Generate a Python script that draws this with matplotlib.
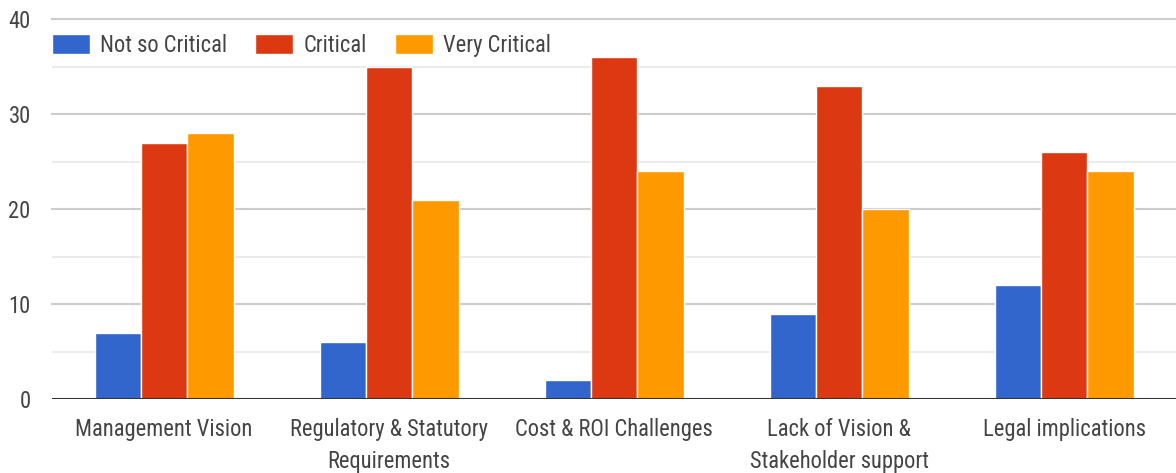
import matplotlib
matplotlib.use("Agg")
import matplotlib.pyplot as plt
from matplotlib import font_manager
from matplotlib.font_manager import FontProperties
from matplotlib.textpath import TextPath
import numpy as np

categories = [
    "Management Vision",
    "Regulatory & Statutory\nRequirements",
    "Cost & ROI Challenges",
    "Lack of Vision &\nStakeholder support",
    "Legal implications",
]
series_names = ["Not so Critical", "Critical", "Very Critical"]
not_so_critical = [7, 6, 2, 9, 12]
critical = [27, 35, 36, 33, 26]
very_critical = [28, 21, 24, 20, 24]
y_ticks = [0, 10, 20, 30, 40]

colors = ["#3366cc", "#dc3912", "#ff9900"]
text_color = "#444444"

W, H = 1176, 473
PX_PER_PT = 100 / 72


def pick_font():
    """Choose a sans face whose proportions suit a narrow label style:
    label width and cap height both near the intended pixel sizes."""
    target_w, target_cap = 174.0, 17.2
    cands = []
    for f in font_manager.fontManager.ttflist:
        n = f.name
        if any(k in n for k in ("Mono", "Serif", "CJK", "Math", "Display")):
            continue
        if f.style != "normal":
            continue
        if f.weight not in (400, "normal", "regular", "book"):
            continue
        if not n.startswith(("Liberation Sans", "Roboto", "Open Sans", "Noto Sans",
                             "DejaVu Sans", "Lato", "Arimo")):
            continue
        cands.append(f.fname)
    best = None
    for path in sorted(set(cands)):
        try:
            p = FontProperties(fname=path, size=100)
            w = TextPath((0, 0), "Management Vision", prop=p).get_extents().width
            cap = TextPath((0, 0), "H", prop=p).get_extents().height
        except Exception:
            continue
        if w <= 0 or cap <= 0:
            continue
        size = 100 * (target_w / PX_PER_PT) / w
        cap_px = cap * size / 100 * PX_PER_PT
        score = abs(cap_px - target_cap)
        if best is None or score < best[0]:
            best = (score, path, size)
    return best[1], best[2]


font_path, fs = pick_font()
fp = FontProperties(fname=font_path, size=fs)
fs_px = fs * PX_PER_PT

fig = plt.figure(figsize=(W / 100, H / 100), dpi=100)
ax = fig.add_axes([51.7 / W, (H - 399.3) / H, (1176.5 - 51.7) / W, (399.3 - 19.3) / H])

x = np.arange(len(categories))
bw = 0.206
values = [not_so_critical, critical, very_critical]
for i, (name, vals, c) in enumerate(zip(series_names, values, colors)):
    ax.bar(x + (i - 1) * bw, vals, width=bw, color=c, edgecolor="white",
           linewidth=1.0, label=name, zorder=3)

ax.set_xlim(-0.5, 4.5)
ax.set_ylim(0, 40)

# gridlines: major every 10, minor every 5, dark baseline at zero
for v in range(5, 40, 10):
    ax.axhline(v, color="#ebebeb", linewidth=1.5, zorder=1)
for v in range(10, 41, 10):
    ax.axhline(v, color="#cccccc", linewidth=1.5, zorder=1, clip_on=False)
ax.axhline(0, color="#333333", linewidth=1.5, zorder=4)

for s in ax.spines.values():
    s.set_visible(False)

ax.set_yticks(y_ticks)
ax.set_yticklabels([str(v) for v in y_ticks], fontproperties=fp, color=text_color)
ax.set_xticks(x)
ax.set_xticklabels(categories, fontproperties=fp, color=text_color, linespacing=1.5)
ax.tick_params(axis="both", length=0)
ax.tick_params(axis="y", pad=21 / PX_PER_PT)
ax.tick_params(axis="x", pad=19 / PX_PER_PT)

leg = ax.legend(loc="center left", bbox_to_anchor=(52.3 / W, 1 - 45.3 / H),
                bbox_transform=fig.transFigure, ncol=3, frameon=False,
                prop=fp, handlelength=38 / fs_px, handleheight=22.7 / fs_px,
                handletextpad=10 / fs_px, columnspacing=28 / fs_px, borderpad=0,
                borderaxespad=0)
for t in leg.get_texts():
    t.set_color(text_color)

fig.savefig("out.png", dpi=100)
